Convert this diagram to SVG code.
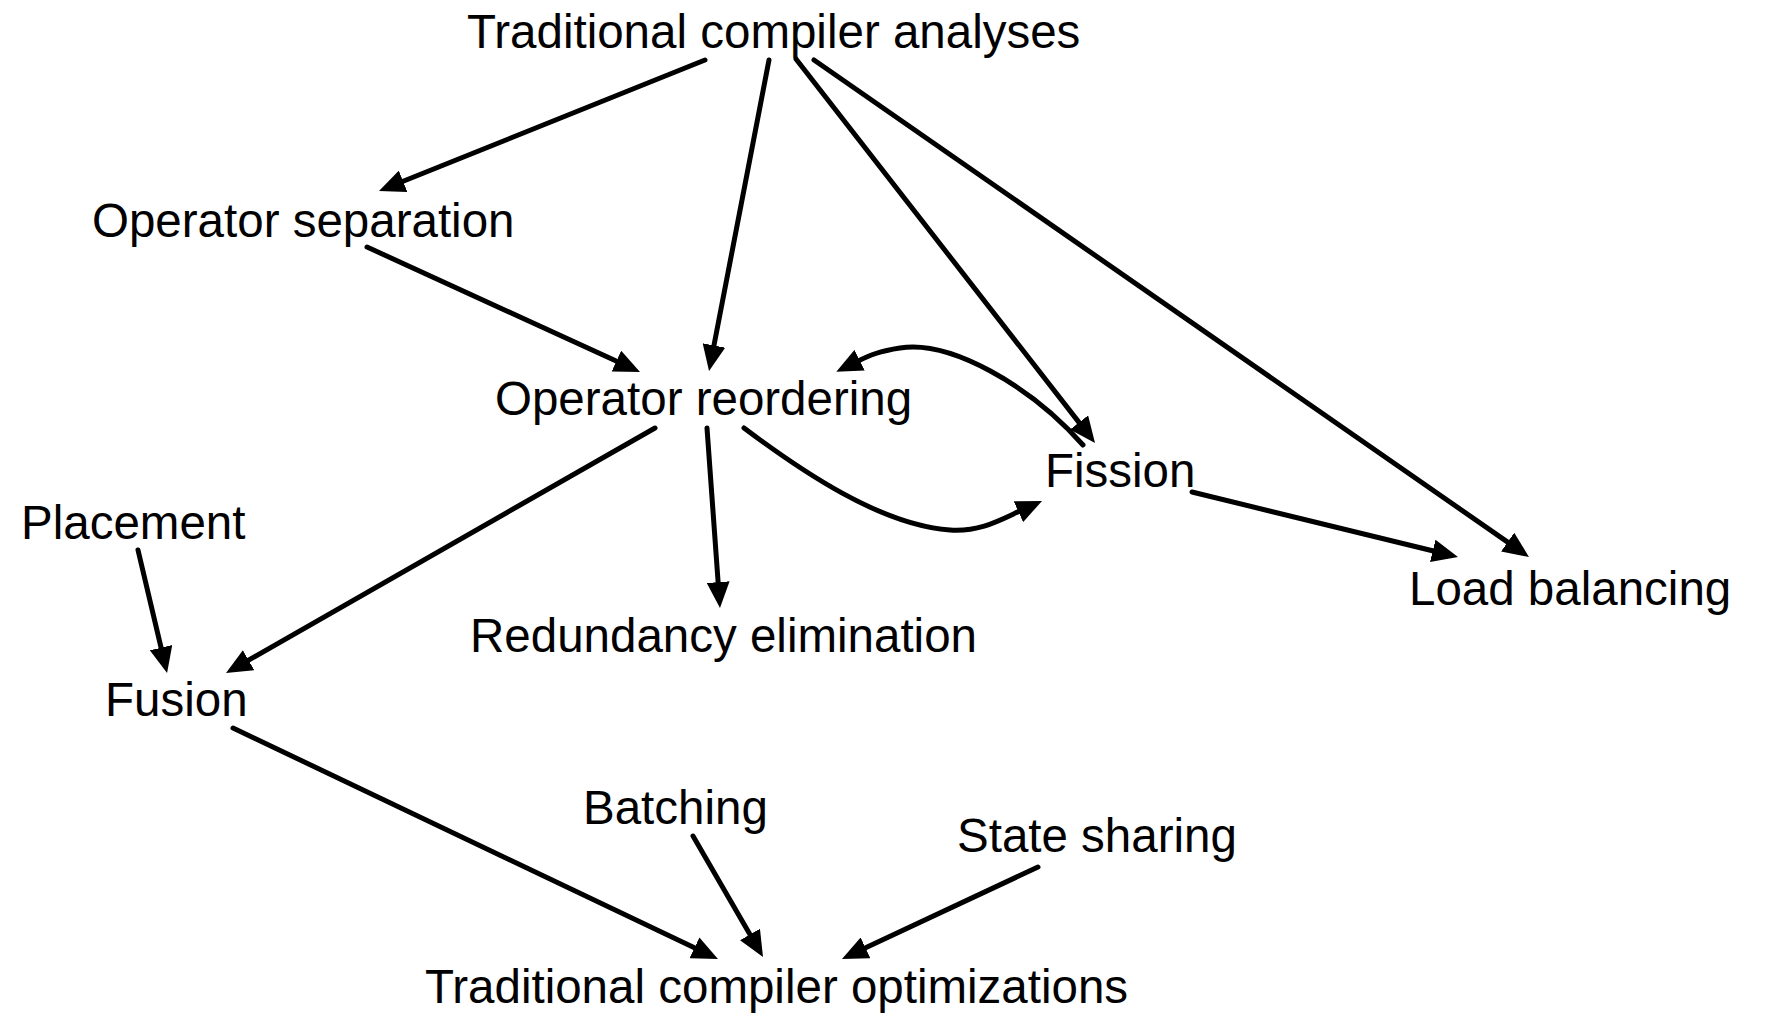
<svg xmlns="http://www.w3.org/2000/svg" width="1765" height="1014" viewBox="0 0 1765 1014">
<style>
text{font-family:"Liberation Sans",Arial,Helvetica,sans-serif;font-size:47.5px;fill:#000}
.e{fill:none;stroke:#000;stroke-width:5;stroke-linecap:round;marker-end:url(#ah)}
</style>
<defs>
<marker id="ah" markerUnits="userSpaceOnUse" markerWidth="26" markerHeight="23" viewBox="0 0 26 23" refX="4" refY="11.5" orient="auto">
<path d="M0,0 L26,11.5 L0,23 z" fill="#000"/>
</marker>
</defs>
<rect width="1765" height="1014" fill="#fff"/>
<g id="connectors">
<path class="e" d="M705,60 L399.4,182.8"/>
<path class="e" d="M769,60 L713.2,349.4"/>
<path class="e" d="M796,59 L1081.5,425.6"/>
<path class="e" d="M814,60 L1510.9,544.4"/>
<path class="e" d="M367,247 L620,362.8"/>
<path class="e" d="M655,428 L245.1,662.1"/>
<path class="e" d="M707,428 L718.4,586.1"/>
<path class="e" d="M744,428 C800,470 880,525 950,530 C980,532 1000,520 1022,510"/>
<path class="e" d="M1083,445 C1030,385 950,340 900,348 C880,351 870,355 856,362"/>
<path class="e" d="M1192,492 L1436.6,551.8"/>
<path class="e" d="M138,550 L162,651.6"/>
<path class="e" d="M233,728 L698.1,949.5"/>
<path class="e" d="M693,836 L752,937.9"/>
<path class="e" d="M1038,867 L861.9,949.6"/>
</g>
<g id="n-analyses"><text x="467" y="48">Traditional compiler analyses</text></g>
<g id="n-separation"><text x="92" y="237">Operator separation</text></g>
<g id="n-reordering"><text x="495" y="415">Operator reordering</text></g>
<g id="n-fission"><text x="1045" y="487">Fission</text></g>
<g id="n-placement"><text x="21" y="539">Placement</text></g>
<g id="n-load"><text x="1409" y="605">Load balancing</text></g>
<g id="n-redundancy"><text x="470" y="652">Redundancy elimination</text></g>
<g id="n-fusion"><text x="105" y="716">Fusion</text></g>
<g id="n-batching"><text x="583" y="824">Batching</text></g>
<g id="n-state"><text x="957" y="852">State sharing</text></g>
<g id="n-optimizations"><text x="425" y="1003">Traditional compiler optimizations</text></g>
</svg>
